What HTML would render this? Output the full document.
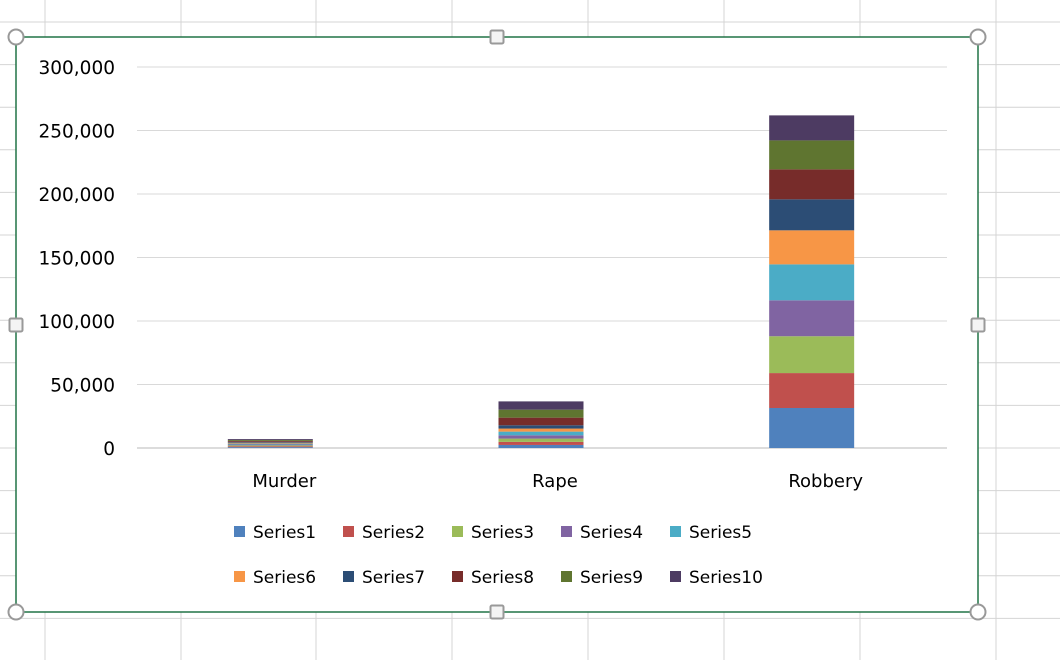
<!DOCTYPE html>
<html><head><meta charset="utf-8"><style>
body{margin:0;width:1060px;height:660px;overflow:hidden;background:#fff;font-family:"DejaVu Sans","Liberation Sans",sans-serif;}
</style></head><body>
<svg id="c" width="1060" height="660" xmlns="http://www.w3.org/2000/svg"></svg>
<script>
const categories=["Murder","Rape","Robbery"];
const seriesNames=["Series1","Series2","Series3","Series4","Series5","Series6","Series7","Series8","Series9","Series10"];
const s1=[700,2400,31500];
const s2=[700,2400,27500];
const s3=[700,2600,29000];
const s4=[700,2600,28300];
const s5=[700,2900,28300];
const s6=[700,2400,26800];
const s7=[700,2600,24400];
const s8=[700,6000,23600];
const s9=[700,6300,22800];
const s10=[700,6500,19700];
const yTicks=[0,50000,100000,150000,200000,250000,300000];
const yTickLabels=["0","50,000","100,000","150,000","200,000","250,000","300,000"];
const series=[s1,s2,s3,s4,s5,s6,s7,s8,s9,s10];
const colors=["#4f81bd","#c0504d","#9bbb59","#8064a2","#4bacc6","#f79646","#2c4d75","#772c2a","#5f7530","#4d3b62"];
const NS="http://www.w3.org/2000/svg";
const svg=document.getElementById('c');
function mk(t,a,p){const e=document.createElementNS(NS,t);for(const k in a)e.setAttribute(k,a[k]);(p||svg).appendChild(e);return e;}
const bg=mk('g',{});


[45,181,316,452,588,724,860,996].forEach(x=>mk('line',{x1:x,x2:x,y1:0,y2:660,stroke:'#d4d4d4','stroke-width':1},bg));
for(let y=22;y<660;y+=42.6)mk('line',{x1:0,x2:1060,y1:y,y2:y,stroke:'#d4d4d4','stroke-width':1},bg);
const area=mk('rect',{x:16,y:37,width:962,height:575,fill:'#fff',stroke:'#217346','stroke-width':1.5});


const X0=135,X1=947,Y0=448,Y1=67,YMAX=300000;
const yS=v=>Y0-(v/YMAX)*(Y0-Y1);
const band=(X1-X0)/categories.length;
const xC=i=>X0+band*(i+0.5);
const bw=85;
yTicks.forEach((t,i)=>{
 const l=mk('line',{x1:137,x2:X1,y1:yS(t),y2:yS(t),stroke:i==0?'#d0d0d0':'#d9d9d9','stroke-width':i==0?1.5:1});
 
 
 const tx=mk('text',{x:115,y:yS(t)+7,'text-anchor':'end','font-size':18.5,fill:'#000'});
 tx.textContent=yTickLabels[i];
 
 
});
categories.forEach((c,i)=>{
 let acc=0;
 series.forEach((s,j)=>{
  const y1=yS(acc),y2=yS(acc+s[i]);acc+=s[i];
  const r=mk('rect',{x:xC(i)-bw/2,y:y2,width:bw,height:y1-y2,fill:colors[j]});
  
  
 });
 const t=mk('text',{x:xC(i)+14,y:487,'text-anchor':'middle','font-size':18,fill:'#000'});
 t.textContent=c;
 
 
});
const lx=[234,343,452,561,670];
seriesNames.forEach((n,j)=>{
 const row=Math.floor(j/5),col=j%5;
 const y=row?577:532;
 const g=mk('g',{});
 
 
 mk('rect',{x:lx[col],y:y-6,width:11,height:11,fill:colors[j]},g);
 const t=mk('text',{x:lx[col]+19,y:y+6,'font-size':17,fill:'#000'},g);
 t.textContent=n;
});
const hs=mk('g',{});


[[16,37],[978,37],[16,612],[978,612]].forEach(p=>mk('circle',{cx:p[0],cy:p[1],r:7.5,fill:'#fff',stroke:'#999','stroke-width':2},hs));
[[497,37],[16,325],[978,325],[497,612]].forEach(p=>mk('rect',{x:p[0]-6.5,y:p[1]-6.5,width:13,height:13,fill:'#f4f4f4',stroke:'#999','stroke-width':2,rx:1.5},hs));
</script>
</body></html>
